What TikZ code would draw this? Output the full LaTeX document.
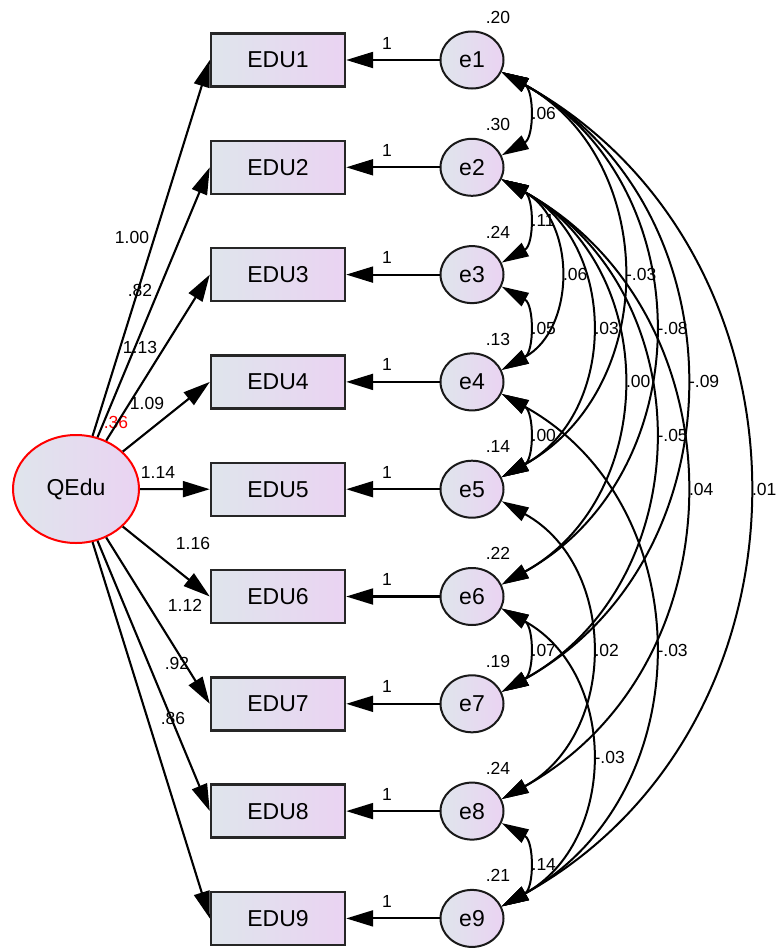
\documentclass[tikz,border=0pt]{standalone}
\usepackage{fontspec}
\setmainfont{Liberation Sans}
\usetikzlibrary{arrows.meta,shapes.geometric}
\definecolor{gA}{HTML}{DFE5EC}
\definecolor{gB}{HTML}{EAD3F2}
\begin{document}
\begin{tikzpicture}[x=1pt,y=-1pt,
  big/.style={font=\fontsize{23}{27}\selectfont},
  obs/.style={big,draw=black!85,line width=2.4pt,rectangle,minimum width=134pt,minimum height=53pt,left color=gA,right color=gB,inner sep=0pt},
  err/.style={big,draw=black!90,line width=2pt,ellipse,minimum width=63pt,minimum height=57pt,left color=gA,right color=gB,inner sep=0pt},
  lat/.style={big,draw=red,line width=2pt,ellipse,minimum width=126pt,minimum height=108pt,left color=gA,right color=gB,inner sep=0pt},
  arr/.style={line width=2.1pt,-{Triangle[length=27pt,width=16pt]}},
  cov/.style={line width=2pt,{Triangle[length=27pt,width=15pt]}-{Triangle[length=27pt,width=15pt]},bend left=61,looseness=1.147},
  lab/.style={font=\fontsize{17.5}{20}\selectfont,inner sep=0pt},
  clab/.style={lab,midway,anchor=west,xshift=4.5pt}
]
\useasboundingbox (0,0) rectangle (777,948);

% latent
\node[lat] (Q) at (76,489) {QEdu};
\node[lab,text=red] (vQ) at (116,422) {.36};

% observed and errors
\foreach \i in {1,...,9}{
  \pgfmathsetmacro\yy{60+107.3*(\i-1)}
  \node[obs] (EDU\i) at (278,\yy) {EDU\i};
  \node[err] (e\i) at (472,\yy) {e\i};
  \draw[arr] (e\i) -- (EDU\i);
  \node[lab] (one\i) at (387,\yy-17) {1};
  \draw[arr] (Q) -- (EDU\i.west);
}

% variances of errors
\node[lab] (v1) at (498,17) {.20};
\node[lab] (v2) at (498,124) {.30};
\node[lab] (v3) at (498,232) {.24};
\node[lab] (v4) at (498,339) {.13};
\node[lab] (v5) at (498,446) {.14};
\node[lab] (v6) at (498,553) {.22};
\node[lab] (v7) at (498,661) {.19};
\node[lab] (v8) at (498,768) {.24};
\node[lab] (v9) at (498,875) {.21};

% loadings
\node[lab] (w1) at (132,237) {1.00};
\node[lab] (w2) at (140,290) {.82};
\node[lab] (w3) at (140,347) {1.13};
\node[lab] (w4) at (147,403) {1.09};
\node[lab] (w5) at (158,472) {1.14};
\node[lab] (w6) at (193,543) {1.16};
\node[lab] (w7) at (185,605) {1.12};
\node[lab] (w8) at (177,663) {.92};
\node[lab] (w9) at (173,718) {.86};

% covariances
\foreach \a/\b/\v in {1/2/.06, 2/3/.11, 3/4/.05, 4/5/.00, 6/7/.07, 8/9/.14,
  2/4/.06, 1/5/-.03, 2/5/.03, 1/6/-.08, 2/6/.00, 1/7/-.09, 2/7/-.05,
  2/8/.04, 1/9/.01, 5/8/.02, 4/9/-.03, 6/9/-.03}{
  \draw[cov] (e\a.-22) to node[clab] (c\a\b) {\v} (e\b.22);
}
\end{tikzpicture}
\end{document}
